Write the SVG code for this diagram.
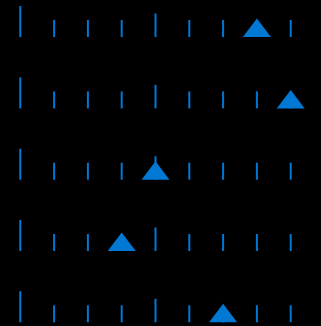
<svg xmlns="http://www.w3.org/2000/svg" width="321" height="326" viewBox="0 0 321 326">
<style>
.t{stroke:#0078D4;stroke-width:2;}
.tri{fill:#0078D4;}
</style>
<defs>
<g id="ticks">
<line class="t" x1="20.3" y1="-31" x2="20.3" y2="0"/>
<line class="t" x1="54.1" y1="-17" x2="54.1" y2="0"/>
<line class="t" x1="87.9" y1="-17" x2="87.9" y2="0"/>
<line class="t" x1="121.7" y1="-17" x2="121.7" y2="0"/>
<line class="t" x1="155.5" y1="-23.5" x2="155.5" y2="0"/>
<line class="t" x1="189.3" y1="-17" x2="189.3" y2="0"/>
<line class="t" x1="223.1" y1="-17" x2="223.1" y2="0"/>
<line class="t" x1="256.9" y1="-17" x2="256.9" y2="0"/>
<line class="t" x1="290.7" y1="-17" x2="290.7" y2="0"/>
</g>
<polygon id="tri" class="tri" points="0,-18.5 14,0 -14,0"/>
</defs>
<rect width="321" height="326" fill="#000"/>
<g id="row1" transform="translate(0,37)">
<use href="#ticks"/>
<use href="#tri" x="256.9"/>
</g>
<g id="row2" transform="translate(0,108.4)">
<use href="#ticks"/>
<use href="#tri" x="290.7"/>
</g>
<g id="row3" transform="translate(0,179.7)">
<use href="#ticks"/>
<use href="#tri" x="155.5"/>
</g>
<g id="row4" transform="translate(0,251)">
<use href="#ticks"/>
<use href="#tri" x="121.7"/>
</g>
<g id="row5" transform="translate(0,322.3)">
<use href="#ticks"/>
<use href="#tri" x="223.1"/>
</g>
</svg>
